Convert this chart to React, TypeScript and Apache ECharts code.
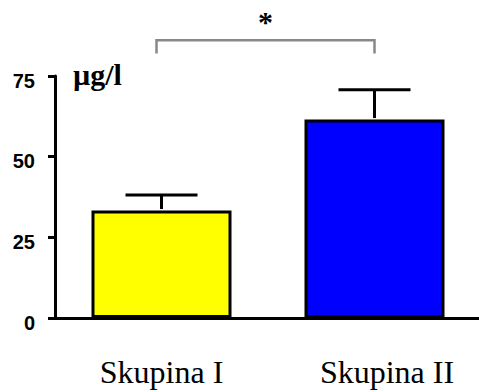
import React, { useEffect, useRef } from "react";
import * as echarts from "echarts";

const categories = ["Skupina I", "Skupina II"];
const means = [33.3, 61.5];
const errorTops = [38.1, 70.7];
const barColors = ["#FFFF00", "#0000FF"];
const yTicks = { min: 0, max: 75, interval: 25 };
const unitLabel = "µg/l";
const sigFrom = 0;
const sigTo = 1;
const bracketTop = 86.1;
const bracketTip = 82.0;
const sigMark = "*";

const SERIF = "Liberation Serif";
const SANS = "Liberation Sans";

export default function App() {
  const ref = useRef<HTMLDivElement>(null);
  useEffect(() => {
    if (!ref.current) return;
    const chart = echarts.init(ref.current, null, { renderer: "svg" });
    chart.setOption({
      animation: false,
      grid: { left: 55, top: 76, width: 426, height: 242, outerBoundsMode: "none" },
      xAxis: {
        type: "category",
        data: categories,
        axisLine: { lineStyle: { color: "#000", width: 3 } },
        axisTick: { alignWithLabel: true, length: 7, lineStyle: { color: "#000", width: 3 } },
        axisLabel: {
          interval: 0,
          hideOverlap: false,
          margin: 38,
          color: "#000",
          fontFamily: SERIF,
          fontSize: 32,
          formatter: (v: string, i: number) => (i === 1 ? `{b|${v}}` : `{a|${v}}`),
          rich: {
            a: { fontFamily: SERIF, fontSize: 32, color: "#000" },
            b: { fontFamily: SERIF, fontSize: 32, color: "#000", padding: [0, 0, 0, 25] },
          },
        },
        splitLine: { show: false },
      },
      yAxis: {
        type: "value",
        min: yTicks.min,
        max: yTicks.max,
        interval: yTicks.interval,
        name: `{u|${unitLabel}}`,
        nameLocation: "end",
        nameGap: 2,
        nameTextStyle: {
          align: "left",
          verticalAlign: "middle",
          rich: {
            u: {
              fontFamily: SERIF,
              fontWeight: "bold",
              fontSize: 30,
              color: "#000",
              padding: [0, 0, 0, 18],
            },
          },
        },
        axisLine: { show: true, lineStyle: { color: "#000", width: 3 } },
        axisTick: { show: true, length: 7, lineStyle: { color: "#000", width: 3 } },
        axisLabel: {
          margin: 20,
          color: "#000",
          fontFamily: SANS,
          fontWeight: "bold",
          fontSize: 20,
          formatter: (v: number) => `{v|${v}}`,
          rich: {
            v: {
              fontFamily: SANS,
              fontWeight: "bold",
              fontSize: 20,
              color: "#000",
              padding: [9, 0, 0, 0],
            },
          },
        },
        splitLine: { show: false },
      },
      series: [
        {
          type: "bar",
          barWidth: 140,
          data: means.map((v, i) => ({
            value: v,
            itemStyle: { color: barColors[i], borderColor: "#000", borderWidth: 3 },
          })),
          z: 2,
        },
        {
          type: "custom",
          z: 3,
          clip: false,
          data: means.map((m, i) => [i, m, errorTops[i]]),
          encode: { x: 0, y: [1, 2] },
          renderItem: (params: any, api: any) => {
            const idx = api.value(0);
            const p1 = api.coord([idx, api.value(1)]);
            const p2 = api.coord([idx, api.value(2)]);
            const hw = 36;
            const style = { stroke: "#000", lineWidth: 3 };
            return {
              type: "group",
              children: [
                { type: "line", shape: { x1: p1[0], y1: p1[1] - 1.5, x2: p2[0], y2: p2[1] }, style },
                { type: "line", shape: { x1: p2[0] - hw, y1: p2[1], x2: p2[0] + hw, y2: p2[1] }, style },
              ],
            };
          },
        },
        {
          type: "custom",
          z: 3,
          clip: false,
          data: [[sigFrom, sigTo, bracketTop, bracketTip]],
          encode: { x: [0, 1], y: [2, 3] },
          renderItem: (params: any, api: any) => {
            const a = api.coord([api.value(0), api.value(2)]);
            const b = api.coord([api.value(1), api.value(2)]);
            const t = api.coord([api.value(0), api.value(3)]);
            const style = { stroke: "#888", lineWidth: 2.5, fill: "none" };
            return {
              type: "group",
              children: [
                {
                  type: "polyline",
                  shape: { points: [[a[0] - 5, t[1]], [a[0] - 5, a[1]], [b[0], b[1]], [b[0], t[1]]] },
                  style,
                },
                {
                  type: "text",
                  x: (a[0] - 5 + b[0]) / 2,
                  y: a[1] - 4,
                  style: {
                    text: sigMark,
                    fontFamily: SERIF,
                    fontWeight: "bold",
                    fontSize: 30,
                    fill: "#000",
                    align: "center",
                    verticalAlign: "bottom",
                  },
                },
              ],
            };
          },
        },
      ],
    });
    return () => chart.dispose();
  }, []);
  return (
    <div
      ref={ref}
      style={{ position: "fixed", left: 0, top: 0, width: 479, height: 392, background: "#fff" }}
    />
  );
}
